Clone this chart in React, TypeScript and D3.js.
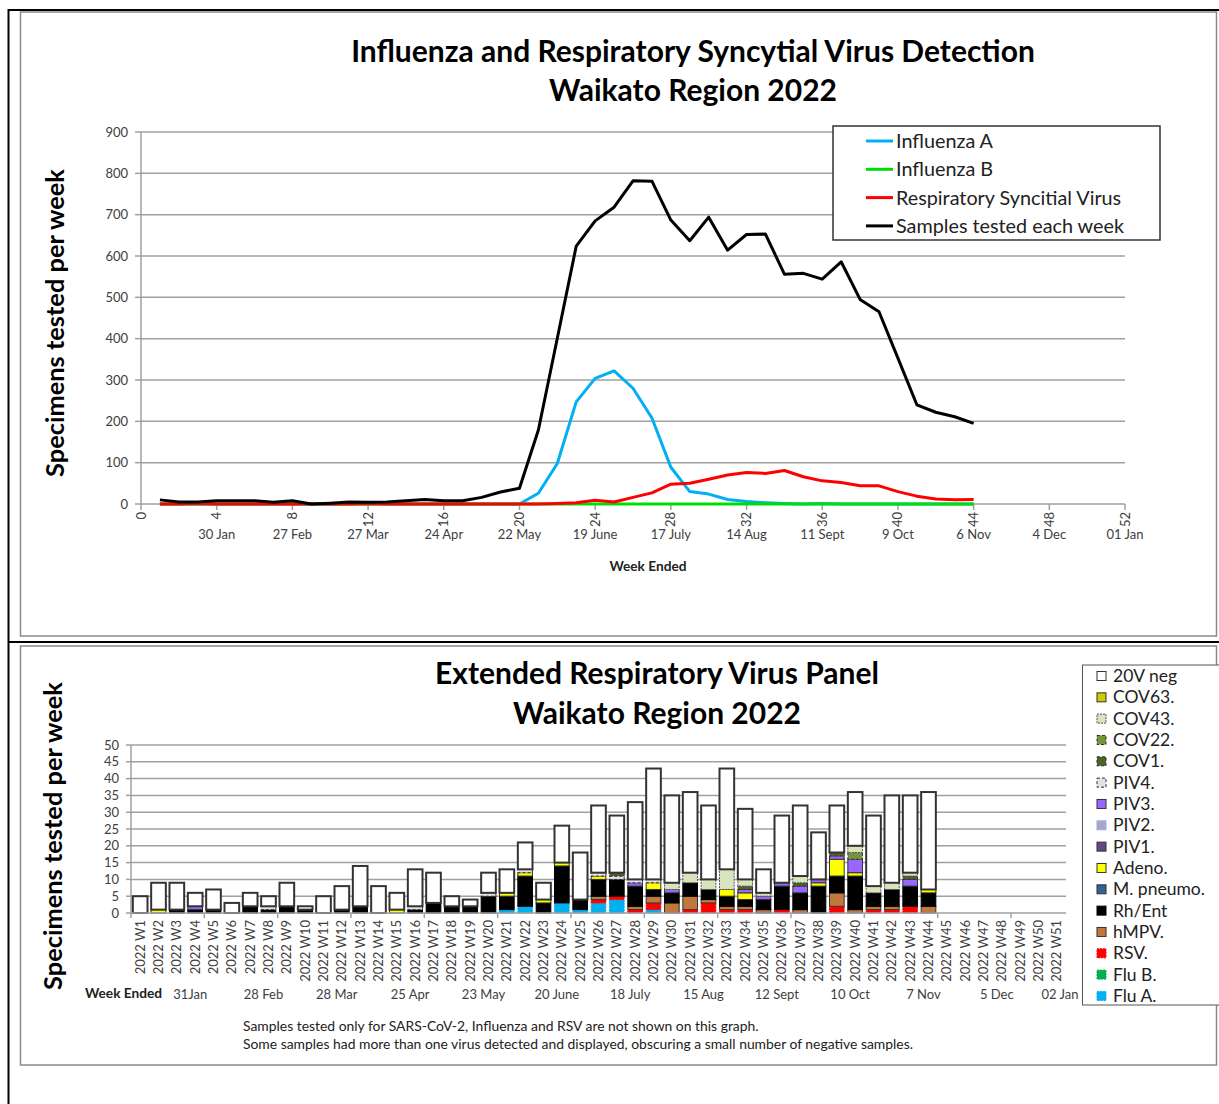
import React from 'react';
import * as d3 from 'd3';

// ---- top chart: weekly line series (weeks 1-44) ----
const weeks = [1, 2, 3, 4, 5, 6, 7, 8, 9, 10, 11, 12, 13, 14, 15, 16, 17, 18, 19, 20, 21, 22,
  23, 24, 25, 26, 27, 28, 29, 30, 31, 32, 33, 34, 35, 36, 37, 38, 39, 40, 41, 42, 43, 44];

const influenzaA = [0, 0, 0, 0, 0, 0, 0, 0, 0, 0, 0, 0, 0, 0, 0, 0, 0, 0, 0, 0, 26, 98,
  247, 304, 322, 280, 208, 89, 30, 24, 11, 6, 3, 1, 0, 1, 0, 0, 0, 0, 0, 0, 0, 0];
const influenzaB = [0, 0, 0, 0, 0, 0, 0, 0, 0, 0, 0, 0, 0, 0, 0, 0, 0, 0, 0, 0, 0, 0,
  0, 0, 0, 0, 0, 0, 0, 0, 0, 0, 0, 0, 0, 0, 0, 0, 0, 0, 0, 0, 0, 0];
const rsvLine = [0, 0, 1, 0, 0, 0, 0, 0, 0, 0, 0, 1, 0, 0, 0, 0, 0, 0, 0, 0, 0, 1,
  3, 9, 5, 16, 27, 48, 50, 60, 70, 76, 74, 81, 66, 56, 52, 44, 44, 30, 19, 12, 10, 11];
const samplesTested = [10, 5, 5, 8, 8, 8, 4, 8, 0, 2, 5, 4, 5, 8, 11, 8, 8, 16, 29, 38, 179, 401,
  624, 685, 718, 782, 781, 687, 637, 694, 614, 652, 653, 556, 558, 544, 586, 495, 465, 353, 240, 222, 211, 195];

const weekTicks = [0, 4, 8, 12, 16, 20, 24, 28, 32, 36, 40, 44, 48, 52];
const weekDates = ['', '30 Jan', '27 Feb', '27 Mar', '24 Apr', '22 May', '19 June', '17 July',
  '14 Aug', '11 Sept', '9 Oct', '6 Nov', '4 Dec', '01 Jan'];

// ---- bottom chart: extended panel (stacked, W1-W44 reported) ----
const panelCategories = ['2022 W1', '2022 W2', '2022 W3', '2022 W4', '2022 W5', '2022 W6', '2022 W7',
  '2022 W8', '2022 W9', '2022 W10', '2022 W11', '2022 W12', '2022 W13', '2022 W14', '2022 W15',
  '2022 W16', '2022 W17', '2022 W18', '2022 W19', '2022 W20', '2022 W21', '2022 W22', '2022 W23',
  '2022 W24', '2022 W25', '2022 W26', '2022 W27', '2022 W28', '2022 W29', '2022 W30', '2022 W31',
  '2022 W32', '2022 W33', '2022 W34', '2022 W35', '2022 W36', '2022 W37', '2022 W38', '2022 W39',
  '2022 W40', '2022 W41', '2022 W42', '2022 W43', '2022 W44', '2022 W45', '2022 W46', '2022 W47',
  '2022 W48', '2022 W49', '2022 W50', '2022 W51'];

const fluA = [0, 0, 0, 0, 0, 0, 0, 0, 0, 0, 0, 0, 0, 0, 0, 0, 0, 0, 0, 0, 1, 2,
  0, 3, 1, 3, 4, 0, 1, 0, 0, 0, 0, 0, 0, 0, 0, 0, 0, 0, 0, 0, 0, 0];
const fluB = [0, 0, 0, 0, 0, 0, 0, 0, 0, 0, 0, 0, 0, 0, 0, 0, 0, 0, 0, 0, 0, 0,
  0, 0, 0, 0, 0, 0, 0, 0, 0, 0, 0, 0, 0, 0, 0, 0, 0, 0, 0, 0, 0, 0];
const rsv = [0, 0, 0, 0, 0, 0, 0, 0, 0, 0, 0, 0, 0, 0, 0, 0, 0, 0, 0, 0, 0, 0,
  0, 0, 0, 1, 1, 1, 2, 0, 1, 3, 1, 1, 0, 1, 0, 0, 2, 0, 1, 1, 2, 0];
const hmpv = [0, 0, 0, 0, 0, 0, 0, 0, 0, 0, 0, 0, 0, 0, 0, 0, 0, 0, 0, 0, 0, 0,
  0, 0, 0, 1, 0, 1, 2, 3, 4, 1, 1, 1, 1, 0, 1, 0, 4, 1, 1, 1, 0, 2];
const rhEnt = [0, 0, 1, 1, 1, 0, 2, 1, 2, 1, 0, 1, 2, 0, 0, 1, 3, 2, 2, 5, 4, 9,
  3, 11, 3, 5, 5, 6, 2, 3, 4, 3, 3, 2, 3, 7, 5, 8, 5, 10, 4, 5, 6, 4];
const mPneumo = [0, 0, 0, 0, 0, 0, 0, 0, 0, 0, 0, 0, 0, 0, 0, 0, 0, 0, 0, 0, 0, 0,
  0, 0, 0, 0, 0, 0, 0, 0, 0, 0, 0, 0, 0, 0, 0, 0, 0, 0, 0, 0, 0, 0];
const adeno = [0, 1, 0, 0, 0, 0, 0, 0, 0, 0, 0, 0, 0, 0, 1, 0, 0, 0, 0, 0, 1, 1,
  1, 1, 0, 1, 0, 0, 2, 0, 0, 0, 2, 2, 0, 0, 0, 1, 5, 1, 0, 0, 0, 1];
const piv1 = [0, 0, 0, 0, 0, 0, 0, 0, 0, 0, 0, 0, 0, 0, 0, 0, 0, 0, 0, 0, 0, 0,
  0, 0, 0, 0, 0, 0, 0, 0, 0, 0, 0, 0, 0, 0, 0, 0, 0, 0, 0, 0, 0, 0];
const piv2 = [0, 0, 0, 0, 0, 0, 0, 0, 0, 0, 0, 0, 0, 0, 0, 0, 0, 0, 0, 0, 0, 0,
  0, 0, 0, 0, 0, 0, 0, 0, 0, 0, 0, 0, 0, 0, 0, 0, 0, 0, 0, 0, 0, 0];
const piv3 = [0, 0, 0, 1, 0, 0, 0, 0, 0, 0, 0, 0, 0, 0, 0, 0, 0, 0, 0, 0, 0, 0,
  0, 0, 0, 0, 0, 1, 0, 1, 0, 0, 0, 1, 1, 1, 2, 1, 1, 4, 0, 0, 2, 0];
const piv4 = [0, 0, 0, 0, 0, 0, 0, 1, 0, 0, 0, 0, 0, 0, 0, 1, 0, 0, 0, 1, 0, 1,
  0, 0, 0, 1, 1, 1, 1, 0, 0, 0, 0, 0, 0, 0, 0, 0, 0, 0, 0, 0, 0, 0];
const cov1 = [0, 0, 0, 0, 0, 0, 0, 0, 0, 0, 0, 0, 0, 0, 0, 0, 0, 0, 0, 0, 0, 0,
  0, 0, 0, 0, 1, 0, 0, 0, 0, 0, 0, 1, 0, 0, 1, 0, 1, 0, 0, 0, 1, 0];
const cov22 = [0, 0, 0, 0, 0, 0, 0, 0, 0, 0, 0, 0, 0, 0, 0, 0, 0, 0, 0, 0, 0, 0,
  0, 0, 0, 0, 0, 0, 0, 0, 0, 0, 0, 0, 0, 0, 0, 0, 0, 2, 0, 0, 0, 0];
const cov43 = [0, 0, 0, 0, 0, 0, 0, 0, 0, 0, 0, 0, 0, 0, 0, 0, 0, 0, 0, 0, 0, 0,
  0, 0, 0, 0, 0, 0, 0, 2, 3, 3, 6, 2, 1, 0, 2, 0, 0, 2, 2, 2, 1, 0];
const cov63 = [0, 0, 0, 0, 0, 0, 0, 0, 0, 0, 0, 0, 0, 0, 0, 0, 0, 0, 0, 0, 0, 0,
  0, 0, 0, 0, 0, 0, 0, 0, 0, 0, 0, 0, 0, 0, 0, 0, 0, 0, 0, 0, 0, 0];
const neg20v = [5, 8, 8, 4, 6, 3, 4, 3, 7, 1, 5, 7, 12, 8, 5, 11, 9, 3, 2, 6, 7, 8,
  5, 11, 14, 20, 17, 23, 33, 26, 24, 22, 30, 21, 7, 20, 21, 14, 14, 16, 21, 26, 23, 29];

const panelDateLabels = ['31Jan', '28 Feb', '28 Mar', '25 Apr', '23 May', '20 June', '18 July',
  '15 Aug', '12 Sept', '10 Oct', '7 Nov', '5 Dec'];
const panelYTicks = [0, 5, 10, 15, 20, 25, 30, 35, 40, 45, 50];

const FONT = 'Lato, "Open Sans", sans-serif';
const GRID = '#a0a0a0';
const TICK_TEXT = '#404040';

// stack order, bottom first
const panelSeries = [
  { key: 'fluA', label: 'Flu A.', values: fluA, fill: '#00b0f0', stroke: '#00b0f0', dash: '2,1' },
  { key: 'fluB', label: 'Flu B.', values: fluB, fill: '#00b050', stroke: '#00b050', dash: '2,1' },
  { key: 'rsv', label: 'RSV.', values: rsv, fill: '#ff0000', stroke: '#ff0000', dash: '2,1' },
  { key: 'hmpv', label: 'hMPV.', values: hmpv, fill: '#c0783c', stroke: '#333', dash: null },
  { key: 'rhEnt', label: 'Rh/Ent', values: rhEnt, fill: '#000000', stroke: '#000', dash: null },
  { key: 'mPneumo', label: 'M. pneumo.', values: mPneumo, fill: '#376092', stroke: '#333', dash: null },
  { key: 'adeno', label: 'Adeno.', values: adeno, fill: '#ffff00', stroke: '#333', dash: null },
  { key: 'piv1', label: 'PIV1.', values: piv1, fill: '#604a7b', stroke: '#333', dash: null },
  { key: 'piv2', label: 'PIV2.', values: piv2, fill: '#b3a2c7', stroke: '#8db3e2', dash: null },
  { key: 'piv3', label: 'PIV3.', values: piv3, fill: '#9966ff', stroke: '#333', dash: null },
  { key: 'piv4', label: 'PIV4.', values: piv4, fill: '#e6e0ec', stroke: '#333', dash: '3,2' },
  { key: 'cov1', label: 'COV1.', values: cov1, fill: '#4f6228', stroke: '#333', dash: '3,2' },
  { key: 'cov22', label: 'COV22.', values: cov22, fill: '#77933c', stroke: '#333', dash: '3,2' },
  { key: 'cov43', label: 'COV43.', values: cov43, fill: '#d7e4bd', stroke: '#555', dash: '2,1' },
  { key: 'cov63', label: 'COV63.', values: cov63, fill: '#cccc00', stroke: '#333', dash: null },
  { key: 'neg', label: '20V neg', values: neg20v, fill: '#ffffff', stroke: '#333', dash: null },
];

const lineSeries = [
  { name: 'Influenza A', values: influenzaA, color: '#00b0f0' },
  { name: 'Influenza B', values: influenzaB, color: '#00e000' },
  { name: 'Respiratory Syncitial Virus', values: rsvLine, color: '#ff0000' },
  { name: 'Samples tested each week', values: samplesTested, color: '#000000' },
];

const FluRsvChart = () => {
  const x = d3.scaleLinear().domain([0, 52]).range([141, 1125]);
  const y = d3.scaleLinear().domain([0, 900]).range([504, 132]);
  const yTicks = y.ticks(9);
  const line = d3.line<number>().x((d, i) => x(weeks[i])).y(d => y(d));

  return (
    <g>
      <text x={693} y={62} textAnchor="middle" fontSize={30} fontWeight="bold" fontFamily={FONT}>
        Influenza and Respiratory Syncytial Virus Detection
      </text>
      <text x={693} y={101} textAnchor="middle" fontSize={30} fontWeight="bold" fontFamily={FONT}>
        Waikato Region 2022
      </text>

      {yTicks.map(t => (
        <g key={t}>
          {t > 0 && <line x1={x(0)} x2={x(52)} y1={y(t)} y2={y(t)} stroke={GRID} strokeWidth={1.5} />}
          <line x1={x(0) - 6} x2={x(0)} y1={y(t)} y2={y(t)} stroke={GRID} strokeWidth={1.5} />
          <text x={x(0) - 13} y={y(t)} dy="0.35em" textAnchor="end" fontSize={13}
            fill={TICK_TEXT} fontFamily={FONT}>{t}</text>
        </g>
      ))}
      <line x1={x(0)} x2={x(0)} y1={y(900)} y2={y(0)} stroke={GRID} strokeWidth={1.5} />
      <line x1={x(0)} x2={x(52)} y1={y(0)} y2={y(0)} stroke={GRID} strokeWidth={1.5} />

      {weekTicks.map((t, i) => (
        <g key={t}>
          <line x1={x(t)} x2={x(t)} y1={y(0)} y2={y(0) + 6} stroke={GRID} strokeWidth={1.5} />
          <text transform={`translate(${x(t)},512) rotate(-90)`} textAnchor="end" dy="0.35em"
            fontSize={13} fill={TICK_TEXT} fontFamily={FONT}>{t}</text>
          <text x={x(t)} y={539} textAnchor="middle" fontSize={13} fill={TICK_TEXT}
            fontFamily={FONT}>{weekDates[i]}</text>
        </g>
      ))}

      <text x={648} y={571} textAnchor="middle" fontSize={13.7} fontWeight="bold" fontFamily={FONT}
        fill="#222">Week Ended</text>
      <text transform="translate(64,323) rotate(-90)" textAnchor="middle" fontSize={25.4}
        fontWeight="bold" fontFamily={FONT}>Specimens tested per week</text>

      {lineSeries.map(s => (
        <path key={s.name} d={line(s.values) || ''} fill="none" stroke={s.color} strokeWidth={3}
          strokeLinejoin="round" />
      ))}

      <rect x={833} y={126} width={327} height={114} fill="#fff" stroke="#333" strokeWidth={1.5} />
      {lineSeries.map((s, i) => (
        <g key={s.name} transform={`translate(0,${141 + i * 28.3})`}>
          <line x1={866} x2={893} y1={0} y2={0} stroke={s.color} strokeWidth={3} />
          <text x={896} y={0} dy="0.35em" fontSize={19.8} fontFamily={FONT} fill="#222">{s.name}</text>
        </g>
      ))}
    </g>
  );
};

const PanelChart = () => {
  const x = d3.scaleBand<string>().domain(panelCategories).range([131, 1066])
    .paddingInner(0.2).paddingOuter(0.1);
  const y = d3.scaleLinear().domain([0, 50]).range([913, 745]);
  const step = x.step();
  const edge = (k: number) => x.range()[0] + k * step;

  const rows = neg20v.map((_, i) => {
    const row: Record<string, any> = { cat: panelCategories[i] };
    panelSeries.forEach(s => { row[s.key] = s.values[i]; });
    return row;
  });
  const stacked = d3.stack<Record<string, any>>().keys(panelSeries.map(s => s.key))(rows);
  const legendOrder = panelSeries.slice().reverse();

  return (
    <g>
      <text x={657} y={684} textAnchor="middle" fontSize={30} fontWeight="bold" fontFamily={FONT}>
        Extended Respiratory Virus Panel
      </text>
      <text x={657} y={724} textAnchor="middle" fontSize={30} fontWeight="bold" fontFamily={FONT}>
        Waikato Region 2022
      </text>
      <text transform="translate(62,836) rotate(-90)" textAnchor="middle" fontSize={25.4}
        fontWeight="bold" fontFamily={FONT}>Specimens tested per week</text>

      {panelYTicks.map(t => (
        <g key={t}>
          {t > 0 && <line x1={edge(0)} x2={edge(51)} y1={y(t)} y2={y(t)} stroke={GRID} strokeWidth={1.5} />}
          <line x1={edge(0) - 5} x2={edge(0)} y1={y(t)} y2={y(t)} stroke={GRID} strokeWidth={1.5} />
          <text x={edge(0) - 12} y={y(t)} dy="0.35em" textAnchor="end" fontSize={13}
            fill={TICK_TEXT} fontFamily={FONT}>{t}</text>
        </g>
      ))}
      <line x1={edge(0)} x2={edge(0)} y1={y(50)} y2={y(0)} stroke={GRID} strokeWidth={1.5} />

      {stacked.map((layer, li) => {
        const s = panelSeries[li];
        return (
          <g key={s.key}>
            {layer.filter(d => d[1] > d[0]).map(d => (
              <rect key={d.data.cat} x={x(d.data.cat)} y={y(d[1])} width={x.bandwidth()}
                height={y(d[0]) - y(d[1])} fill={s.fill} stroke={s.stroke}
                strokeWidth={s.key === 'neg' ? 2 : 1} strokeDasharray={s.dash || undefined} />
            ))}
          </g>
        );
      })}

      <line x1={edge(0)} x2={edge(51)} y1={y(0)} y2={y(0)} stroke={GRID} strokeWidth={1.5} />
      {[0, 4, 8, 12, 16, 20, 24, 28, 32, 36, 40, 44, 48].map(k => (
        <line key={k} x1={edge(k)} x2={edge(k)} y1={y(0)} y2={y(0) + 5} stroke={GRID} strokeWidth={1.5} />
      ))}
      {panelCategories.map(c => (
        <text key={c} transform={`translate(${(x(c) || 0) + x.bandwidth() / 2},920) rotate(-90)`}
          textAnchor="end" dy="0.35em" fontSize={13} fill={TICK_TEXT} fontFamily={FONT}>{c}</text>
      ))}

      <text x={85} y={998} fontSize={13.7} fontWeight="bold" fontFamily={FONT} fill="#222">Week Ended</text>
      {panelDateLabels.map((lab, i) => (
        <text key={lab} x={(x(panelCategories[i * 4 + 3]) || 0) + x.bandwidth() / 2 - 5} y={999}
          textAnchor="middle" fontSize={13} fill={TICK_TEXT} fontFamily={FONT}>{lab}</text>
      ))}
      <text x={edge(51) - 6} y={999} textAnchor="middle" fontSize={13} fill={TICK_TEXT}
        fontFamily={FONT}>02 Jan</text>

      <text x={243} y={1031} fontSize={13.9} fill="#222" fontFamily={FONT}>
        Samples tested only for SARS-CoV-2, Influenza and RSV are not shown on this graph.
      </text>
      <text x={243} y={1049} fontSize={13.9} fill="#222" fontFamily={FONT}>
        Some samples had more than one virus detected and displayed, obscuring a small number of negative samples.
      </text>

      <rect x={1082.5} y={665} width={145} height={340} fill="#fff" stroke="#555" strokeWidth={1} />
      {legendOrder.map((s, i) => (
        <g key={s.key} transform={`translate(0,${676 + i * 21.33})`}>
          <rect x={1097} y={-4.5} width={9} height={9} fill={s.fill} stroke={s.stroke}
            strokeWidth={1} strokeDasharray={s.dash || undefined} />
          <text x={1113} y={0} dy="0.35em" fontSize={17.5} fill="#222" fontFamily={FONT}>{s.label}</text>
        </g>
      ))}
    </g>
  );
};

export default function App() {
  return (
    <svg width={1219} height={1104} style={{ position: 'absolute', left: 0, top: 0, background: '#fff' }}>
      <rect x={0} y={0} width={1219} height={1104} fill="#fff" />
      <path d="M8.5,1104 V10 H1219" fill="none" stroke="#000" strokeWidth={2} />
      <line x1={8} x2={1219} y1={642} y2={642} stroke="#000" strokeWidth={2} />
      <rect x={20.5} y={12} width={1196} height={624} fill="none" stroke="#8a8a8a" strokeWidth={1.5} />
      <rect x={20.5} y={646} width={1196} height={419} fill="none" stroke="#8a8a8a" strokeWidth={1.5} />
      <FluRsvChart />
      <PanelChart />
    </svg>
  );
}
